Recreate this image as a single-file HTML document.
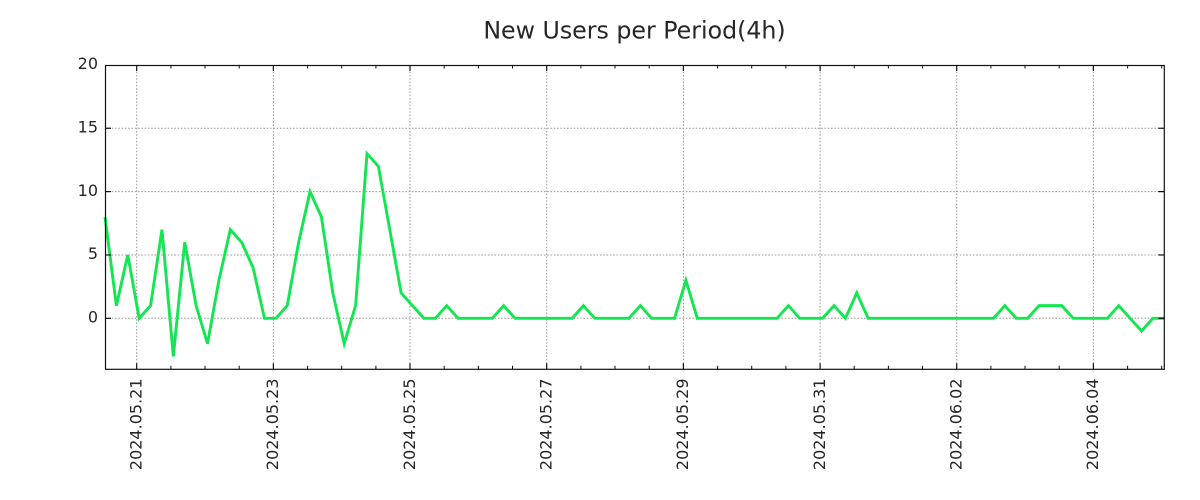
<!DOCTYPE html>
<html>
<head>
<meta charset="utf-8">
<style>
  html, body { margin: 0; padding: 0; background: #ffffff; }
  svg { display: block; }
  text { font-family: "DejaVu Sans", "Liberation Sans", sans-serif; fill: #262626; }
</style>
</head>
<body>
<svg width="1200" height="500" viewBox="0 0 1200 500" xmlns="http://www.w3.org/2000/svg">
  <rect x="0" y="0" width="1200" height="500" fill="#ffffff"/>

  <!-- Title -->
  <text x="634.5" y="38.3" text-anchor="middle" font-size="23.7">New Users per Period(4h)</text>

  <!-- Grid -->
  <g stroke="#999999" stroke-width="1" stroke-dasharray="1.6,1.7" fill="none">
    <line x1="105" y1="318.3" x2="1164.3" y2="318.3"/>
    <line x1="105" y1="254.95" x2="1164.3" y2="254.95"/>
    <line x1="105" y1="191.6" x2="1164.3" y2="191.6"/>
    <line x1="105" y1="128.25" x2="1164.3" y2="128.25"/>
    <line x1="136.7" y1="65" x2="136.7" y2="369.3"/>
    <line x1="273.4" y1="65" x2="273.4" y2="369.3"/>
    <line x1="410.0" y1="65" x2="410.0" y2="369.3"/>
    <line x1="546.7" y1="65" x2="546.7" y2="369.3"/>
    <line x1="683.4" y1="65" x2="683.4" y2="369.3"/>
    <line x1="820.1" y1="65" x2="820.1" y2="369.3"/>
    <line x1="956.7" y1="65" x2="956.7" y2="369.3"/>
    <line x1="1093.4" y1="65" x2="1093.4" y2="369.3"/>
  </g>

  <!-- Data line -->
  <g transform="translate(105,318.3) scale(11.3903,-12.67)">
    <polyline fill="none" stroke="#12e650" stroke-width="2.9" stroke-linejoin="miter" stroke-linecap="butt" vector-effect="non-scaling-stroke"
      points="0,8 1,1 2,5 3,0 4,1 5,7 6,-3 7,6 8,1 9,-2 10,3 11,7 12,6 13,4 14,0 15,0 16,1 17,6 18,10 19,8 20,2 21,-2 22,1 23,13 24,12 25,7 26,2 27,1 28,0 29,0 30,1 31,0 32,0 33,0 34,0 35,1 36,0 37,0 38,0 39,0 40,0 41,0 42,1 43,0 44,0 45,0 46,0 47,1 48,0 49,0 50,0 51,3 52,0 53,0 54,0 55,0 56,0 57,0 58,0 59,0 60,1 61,0 62,0 63,0 64,1 65,0 66,2 67,0 68,0 69,0 70,0 71,0 72,0 73,0 74,0 75,0 76,0 77,0 78,0 79,1 80,0 81,0 82,1 83,1 84,1 85,0 86,0 87,0 88,0 89,1 90,0 91,-1 92,0 93,0"/>
  </g>

  <!-- Spines -->
  <rect x="105.5" y="65.5" width="1058.8" height="303.8" fill="none" stroke="#111111" stroke-width="1.2"/>

  <!-- Y ticks (inward, both sides) -->
  <g stroke="#111111" stroke-width="1.2">
    <line x1="105" y1="318.3" x2="111" y2="318.3"/>
    <line x1="105" y1="254.95" x2="111" y2="254.95"/>
    <line x1="105" y1="191.6" x2="111" y2="191.6"/>
    <line x1="105" y1="128.25" x2="111" y2="128.25"/>
    <line x1="1158.3" y1="318.3" x2="1164.3" y2="318.3"/>
    <line x1="1158.3" y1="254.95" x2="1164.3" y2="254.95"/>
    <line x1="1158.3" y1="191.6" x2="1164.3" y2="191.6"/>
    <line x1="1158.3" y1="128.25" x2="1164.3" y2="128.25"/>
  </g>

  <!-- X major ticks (inward, top and bottom) -->
  <g stroke="#111111" stroke-width="1.2">
    <line x1="136.7" y1="369.3" x2="136.7" y2="363.3"/><line x1="136.7" y1="65" x2="136.7" y2="71"/>
    <line x1="273.4" y1="369.3" x2="273.4" y2="363.3"/><line x1="273.4" y1="65" x2="273.4" y2="71"/>
    <line x1="410.0" y1="369.3" x2="410.0" y2="363.3"/><line x1="410.0" y1="65" x2="410.0" y2="71"/>
    <line x1="546.7" y1="369.3" x2="546.7" y2="363.3"/><line x1="546.7" y1="65" x2="546.7" y2="71"/>
    <line x1="683.4" y1="369.3" x2="683.4" y2="363.3"/><line x1="683.4" y1="65" x2="683.4" y2="71"/>
    <line x1="820.1" y1="369.3" x2="820.1" y2="363.3"/><line x1="820.1" y1="65" x2="820.1" y2="71"/>
    <line x1="956.7" y1="369.3" x2="956.7" y2="363.3"/><line x1="956.7" y1="65" x2="956.7" y2="71"/>
    <line x1="1093.4" y1="369.3" x2="1093.4" y2="363.3"/><line x1="1093.4" y1="65" x2="1093.4" y2="71"/>
  </g>

  <!-- X minor ticks every 12h -->
  <g stroke="#111111" stroke-width="1">
    <path d="
      M170.9,369.3 v-3.5 M205.0,369.3 v-3.5 M239.2,369.3 v-3.5
      M307.6,369.3 v-3.5 M341.7,369.3 v-3.5 M375.9,369.3 v-3.5
      M444.2,369.3 v-3.5 M478.4,369.3 v-3.5 M512.5,369.3 v-3.5
      M580.9,369.3 v-3.5 M615.0,369.3 v-3.5 M649.2,369.3 v-3.5
      M717.6,369.3 v-3.5 M751.7,369.3 v-3.5 M785.9,369.3 v-3.5
      M854.2,369.3 v-3.5 M888.4,369.3 v-3.5 M922.5,369.3 v-3.5
      M990.9,369.3 v-3.5 M1025.0,369.3 v-3.5 M1059.2,369.3 v-3.5
      M1127.6,369.3 v-3.5 M1161.7,369.3 v-3.5
      M170.9,65 v3.5 M205.0,65 v3.5 M239.2,65 v3.5
      M307.6,65 v3.5 M341.7,65 v3.5 M375.9,65 v3.5
      M444.2,65 v3.5 M478.4,65 v3.5 M512.5,65 v3.5
      M580.9,65 v3.5 M615.0,65 v3.5 M649.2,65 v3.5
      M717.6,65 v3.5 M751.7,65 v3.5 M785.9,65 v3.5
      M854.2,65 v3.5 M888.4,65 v3.5 M922.5,65 v3.5
      M990.9,65 v3.5 M1025.0,65 v3.5 M1059.2,65 v3.5
      M1127.6,65 v3.5 M1161.7,65 v3.5"/>
  </g>

  <!-- Y tick labels -->
  <g font-size="16" text-anchor="end">
    <text x="98" y="69.2">20</text>
    <text x="98" y="132.5">15</text>
    <text x="98" y="195.9">10</text>
    <text x="98" y="259.2">5</text>
    <text x="98" y="322.5">0</text>
  </g>

  <!-- X tick labels (rotated) -->
  <g font-size="16" text-anchor="end">
    <text transform="translate(136.7,378.5) rotate(-90)" x="0" y="4.8">2024.05.21</text>
    <text transform="translate(273.4,378.5) rotate(-90)" x="0" y="4.8">2024.05.23</text>
    <text transform="translate(410.0,378.5) rotate(-90)" x="0" y="4.8">2024.05.25</text>
    <text transform="translate(546.7,378.5) rotate(-90)" x="0" y="4.8">2024.05.27</text>
    <text transform="translate(683.4,378.5) rotate(-90)" x="0" y="4.8">2024.05.29</text>
    <text transform="translate(820.1,378.5) rotate(-90)" x="0" y="4.8">2024.05.31</text>
    <text transform="translate(956.7,378.5) rotate(-90)" x="0" y="4.8">2024.06.02</text>
    <text transform="translate(1093.4,378.5) rotate(-90)" x="0" y="4.8">2024.06.04</text>
  </g>
</svg>
</body>
</html>
